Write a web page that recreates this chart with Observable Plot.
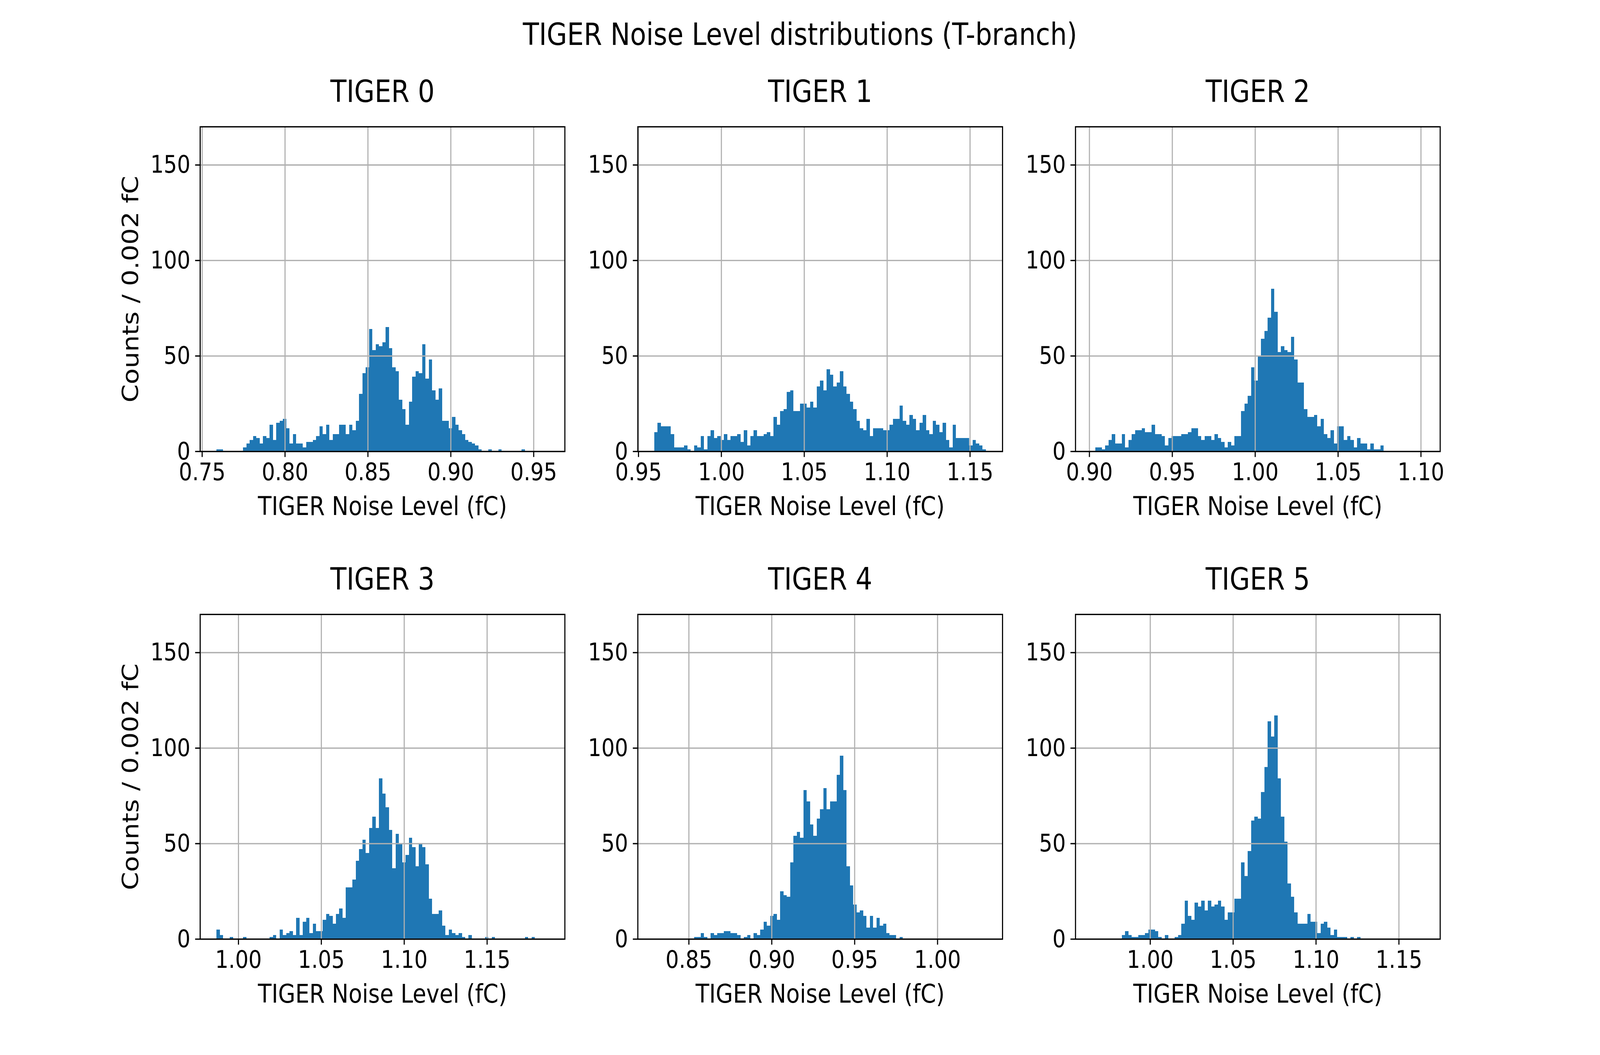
<!DOCTYPE html>
<html>
<head>
<meta charset="utf-8">
<script src="https://cdn.jsdelivr.net/npm/d3@7"></script>
<script src="https://cdn.jsdelivr.net/npm/@observablehq/plot@0.6"></script>
<style>
  html, body { margin: 0; padding: 0; background: #fff; overflow: hidden; }
  #fig { position: absolute; left: 0; top: 0; width: 4800px; height: 2700px; overflow: hidden; font-family: "DejaVu Sans", sans-serif; transform-origin: 0 0; }
  #fig svg { position: absolute; max-width: none; background: none; }
  #suptitle { position: absolute; left: 0; top: 49px; width: 4800px; text-align: center; font-size: 79px; line-height: 79px; color: #000; white-space: nowrap; }
</style>
</head>
<body>
<div id="fig"><div id="suptitle">TIGER Noise Level distributions (T-branch)</div></div>
<script>
// ---------------- data ----------------
const panelTitles = ["TIGER 0", "TIGER 1", "TIGER 2", "TIGER 3", "TIGER 4", "TIGER 5"];
const xLabel = "TIGER Noise Level (fC)";
const yLabel = "Counts / 0.002 fC";
const binWidth = 0.002;
const binCount = 100;
// left edge of the first histogram bin of each TIGER (fC)
const binStart = [0.7588, 0.9596, 0.9016, 0.9869, 0.8292, 0.9649];
const yTicks = [0, 50, 100, 150];
const yMax = 170;

const counts0 = [1,1,0,0,0,0,0,0,2,4,6,8,7,4,8,7,14,6,15,16,17,12,4,9,4,4,2,5,5,6,8,13,9,14,6,9,9,14,14,9,14,11,16,30,41,44,64,53,56,55,57,65,54,44,42,27,22,14,26,39,42,41,56,38,48,32,27,33,16,16,12,18,14,11,9,6,5,4,3,1,0,0,1,0,0,1,0,0,0,0,0,0,1];
const counts1 = [10,15,13,13,13,9,2,2,2,3,1,0,3,2,8,1,8,11,7,8,6,9,6,8,8,9,5,11,3,8,11,8,8,9,10,8,18,14,21,22,31,32,21,21,25,25,23,26,23,34,37,32,43,40,34,36,42,34,30,26,22,16,12,11,17,8,12,12,12,11,11,14,17,17,24,16,14,19,17,11,15,19,11,9,16,14,10,15,6,2,14,7,7,7,7,3,6,4,3,1];
const counts2 = [0,2,2,1,3,6,9,4,4,9,2,6,9,11,11,12,10,10,14,9,9,8,3,7,8,8,8,9,9,10,12,12,8,6,8,8,6,9,7,5,2,5,3,8,8,21,25,29,44,37,50,59,63,70,85,73,52,55,53,52,60,48,36,36,22,18,18,19,13,17,9,7,11,4,13,13,6,8,6,2,7,4,4,1,4,1,1,3];
const counts3 = [5,2,0,0,1,0,0,0,1,0,0,0,0,0,0,0,1,2,0,5,2,3,4,2,11,2,9,11,3,8,4,4,10,13,12,8,13,16,11,27,27,31,41,47,52,45,58,64,58,84,76,69,57,37,55,50,40,44,53,48,38,50,48,39,21,13,13,15,7,2,5,3,2,3,1,0,2,0,0,0,0,1,0,1,0,0,0,0,0,0,0,0,0,1,0,1];
const counts4 = [0,0,0,0,0,0,0,0,0,0,0,0,1,1,3,1,0,3,2,3,3,4,4,3,3,2,0,1,2,0,3,2,5,9,7,12,13,10,25,23,22,40,54,56,53,78,72,60,54,63,68,79,68,72,72,86,96,78,38,28,18,14,15,12,6,12,6,11,7,8,3,2,2,0,1];
const counts5 = [0,0,0,0,0,0,0,0,0,2,4,2,1,1,2,2,3,5,5,4,1,0,2,0,0,1,2,8,20,12,10,19,17,20,15,20,17,18,20,17,10,14,14,21,21,40,33,46,62,64,63,77,90,114,106,117,84,64,51,29,22,14,8,8,8,13,9,9,3,8,9,6,2,5,1,1,1,0,1,0,1];
const allCounts = [counts0, counts1, counts2, counts3, counts4, counts5];

// ---------------- layout (matplotlib 16x9 in @ 300 dpi, 2x3 subplots) ----------------
const axW = 1094.1, axH = 831;
const colLeft = [600, 1912.9, 3225.9];
const rowTop = [324, 1572];
const mL = 300, mR = 60, mT = 170, mB = 240;
const blue = "#1f77b4";
const gridColor = "#b0b0b0";
const lw = 3.33;       // 0.8 pt
const tickLen = 14.6;  // 3.5 pt
const tickFont = 63, labelFont = 66.7, titleFont = 79;

const fig = document.getElementById("fig");

allCounts.forEach((counts, p) => {
  const r = Math.floor(p / 3), c = p % 3;
  const lo = binStart[p];
  const bins = counts.map((n, i) => ({x1: lo + i * binWidth, x2: lo + (i + 1) * binWidth, count: n}));
  const hi = lo + binCount * binWidth;
  const pad = 0.05 * (hi - lo);
  const domain = [lo - pad, hi + pad];
  const xTicks = d3.range(Math.ceil(domain[0] * 20 - 1e-9), Math.floor(domain[1] * 20 + 1e-9) + 1).map(k => k / 20);

  const chart = Plot.plot({
    width: axW + mL + mR,
    height: axH + mT + mB,
    marginLeft: mL, marginRight: mR, marginTop: mT, marginBottom: mB,
    style: {fontFamily: "DejaVu Sans", color: "black", background: "none", overflow: "visible"},
    x: {domain, label: null},
    y: {domain: [0, yMax], label: null},
    marks: [
      Plot.rectY(bins, {x1: "x1", x2: "x2", y: "count", fill: blue, shapeRendering: "crispEdges"}),
      Plot.gridX(xTicks, {stroke: gridColor, strokeOpacity: 1, strokeWidth: lw}),
      Plot.gridY(yTicks, {stroke: gridColor, strokeOpacity: 1, strokeWidth: lw}),
      Plot.frame({stroke: "black", strokeWidth: lw}),
      Plot.axisX(xTicks, {tickSize: tickLen, tickPadding: tickLen, strokeWidth: lw, fontSize: tickFont, tickFormat: d3.format(".2f"), label: null}),
      Plot.axisY(yTicks, {tickSize: tickLen, tickPadding: tickLen, strokeWidth: lw, fontSize: tickFont, tickFormat: d3.format("d"), label: null}),
      Plot.text([panelTitles[p]], {text: d => d, frameAnchor: "top", dy: -63, lineAnchor: "bottom", fontSize: titleFont}),
      Plot.text([xLabel], {text: d => d, frameAnchor: "bottom", dy: 163, lineAnchor: "bottom", fontSize: labelFont}),
      c === 0 ? Plot.text([yLabel], {text: d => d, frameAnchor: "left", dx: -186, rotate: -90, lineAnchor: "bottom", textAnchor: "middle", fontSize: labelFont}) : null
    ]
  });
  chart.style.left = (colLeft[c] - mL) + "px";
  chart.style.top = (rowTop[r] - mT) + "px";
  fig.appendChild(chart);
});

// The browser viewport may be narrower than 4800 px: stretch the 4800x2700 figure onto it
function fit() {
  const sx = window.innerWidth / 4800, sy = window.innerHeight / 2700;
  fig.style.transform = `scale(${sx}, ${sy})`;
}
fit();
window.addEventListener("resize", fit);
</script>
</body>
</html>
